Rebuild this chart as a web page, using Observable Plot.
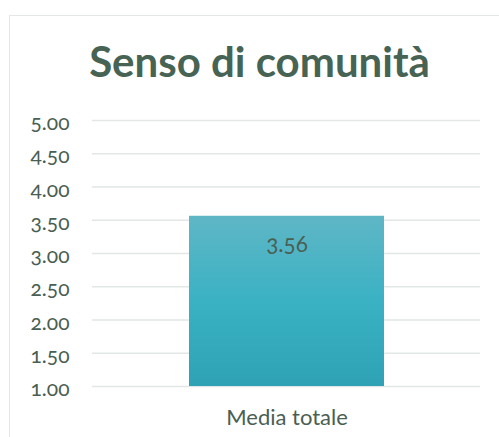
<!DOCTYPE html>
<html><head><meta charset="utf-8">
<script src="https://cdn.jsdelivr.net/npm/d3@7"></script>
<script src="https://cdn.jsdelivr.net/npm/@observablehq/plot@0.6"></script>
<style>
html,body{margin:0;padding:0;background:#fff;}
#wrap{position:relative;width:499px;height:437px;overflow:hidden;}
#frame{position:absolute;left:9px;top:15px;width:600px;height:500px;border-left:1.5px solid #e3e7e5;border-top:1.5px solid #e3e7e5;box-sizing:border-box;}
#chart{position:absolute;left:0;top:0;}
svg text{font-variant-numeric:oldstyle-nums;}
</style></head>
<body><div id="wrap"><div id="frame"></div><div id="chart"></div></div>
<script>
const title = "Senso di comunità";
const categories = ["Media totale"];
const values = [3.56];
const yTicks = [1, 1.5, 2, 2.5, 3, 3.5, 4, 4.5, 5];

const data = categories.map((c, i) => ({category: c, value: values[i]}));
const textColor = "#4a5e53";

const chart = Plot.plot({
  width: 499,
  height: 437,
  marginLeft: 92,
  marginRight: 19,
  marginTop: 120,
  marginBottom: 51,
  style: {fontFamily: "Lato, 'Open Sans', sans-serif", fontSize: "17px", background: "transparent", color: textColor},
  x: {domain: categories, padding: 0.331, label: null, axis: null},
  y: {domain: [1, 5], ticks: yTicks, label: null, axis: null},
  marks: [
    Plot.gridY(yTicks, {stroke: "#e1e7e4", strokeOpacity: 1, strokeWidth: 1.5}),
    Plot.text(yTicks, {y: d => d, frameAnchor: "left", textAnchor: "end", dx: -23, dy: 3, text: d3.format(".2f"), fontSize: 21, fill: textColor}),
    Plot.text(categories, {x: d => d, frameAnchor: "bottom", lineAnchor: "middle", dy: 31, text: d => d, fontSize: 22, fill: textColor}),
    Plot.barY(data, {x: "category", y1: 1, y2: "value", fill: "url(#barGrad)"}),
    Plot.text(data, {x: "category", y: "value", text: d => d.value.toFixed(2), dy: 29, fontSize: 22.5, fill: textColor}),
    Plot.text([title], {frameAnchor: "top", dx: -27, dy: -73, fontSize: 42, fontWeight: "bold", fill: "#476353", text: d => d})
  ]
});

const svg = d3.select(chart);
const grad = svg.insert("defs", ":first-child").append("linearGradient")
  .attr("id", "barGrad").attr("x1", 0).attr("y1", 0).attr("x2", 0).attr("y2", 1);
grad.append("stop").attr("offset", "0%").attr("stop-color", "#5fb6c5");
grad.append("stop").attr("offset", "50%").attr("stop-color", "#3ab2c4");
grad.append("stop").attr("offset", "100%").attr("stop-color", "#2ea2b4");

document.getElementById("chart").appendChild(chart);
</script></body></html>
